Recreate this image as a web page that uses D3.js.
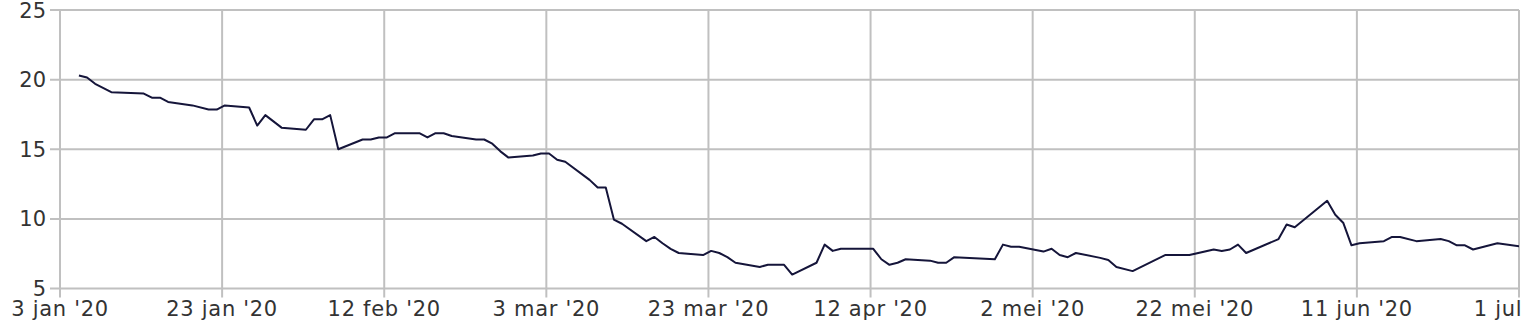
<!DOCTYPE html>
<html>
<head>
<meta charset="utf-8">
<script src="https://cdn.jsdelivr.net/npm/d3@7"></script>
<style>
  body { margin: 0; background: #fff; }
  svg { display: block; overflow: hidden; }
  .tick-label { font-family: "DejaVu Sans", Verdana, sans-serif; font-size: 21px; fill: #333; }
  .x-label { letter-spacing: 0.7px; }
</style>
</head>
<body>
<svg id="chart"></svg>
<script>
// data: dates and values
const dates = [
  "2020-01-05","2020-01-06","2020-01-07","2020-01-09","2020-01-13","2020-01-14","2020-01-15","2020-01-16",
  "2020-01-19","2020-01-21","2020-01-22","2020-01-23","2020-01-26","2020-01-27","2020-01-28","2020-01-30",
  "2020-02-02","2020-02-03","2020-02-04","2020-02-05","2020-02-06","2020-02-09","2020-02-10","2020-02-11",
  "2020-02-12","2020-02-13","2020-02-16","2020-02-17","2020-02-18","2020-02-19","2020-02-20","2020-02-23",
  "2020-02-24","2020-02-25","2020-02-26","2020-02-27","2020-03-01","2020-03-02","2020-03-03","2020-03-04",
  "2020-03-05","2020-03-08","2020-03-09","2020-03-10","2020-03-11","2020-03-12","2020-03-15","2020-03-16",
  "2020-03-17","2020-03-18","2020-03-19","2020-03-22","2020-03-23","2020-03-24","2020-03-25","2020-03-26",
  "2020-03-29","2020-03-30","2020-04-01","2020-04-02","2020-04-05","2020-04-06","2020-04-07","2020-04-08",
  "2020-04-12","2020-04-13","2020-04-14","2020-04-15","2020-04-16","2020-04-19","2020-04-20","2020-04-21",
  "2020-04-22","2020-04-27","2020-04-28","2020-04-29","2020-04-30","2020-05-03","2020-05-04","2020-05-05",
  "2020-05-06","2020-05-07","2020-05-10","2020-05-11","2020-05-12","2020-05-14","2020-05-18","2020-05-21",
  "2020-05-24","2020-05-25","2020-05-26","2020-05-27","2020-05-28","2020-06-01","2020-06-02","2020-06-03",
  "2020-06-07","2020-06-08","2020-06-09","2020-06-10","2020-06-11","2020-06-14","2020-06-15","2020-06-16",
  "2020-06-18","2020-06-21","2020-06-22","2020-06-23","2020-06-24","2020-06-25","2020-06-28","2020-07-01"
];
const values = [
  20.3, 20.15, 19.7, 19.1, 19.0, 18.7, 18.7, 18.4,
  18.15, 17.85, 17.85, 18.15, 18.0, 16.7, 17.45, 16.55,
  16.4, 17.15, 17.15, 17.45, 15.0, 15.7, 15.7, 15.85,
  15.85, 16.15, 16.15, 15.85, 16.15, 16.15, 15.95, 15.7,
  15.7, 15.4, 14.85, 14.4, 14.55, 14.7, 14.7, 14.25,
  14.1, 12.8, 12.25, 12.25, 9.95, 9.65, 8.4, 8.7,
  8.25, 7.85, 7.55, 7.4, 7.7, 7.55, 7.25, 6.85,
  6.55, 6.7, 6.7, 6.0, 6.85, 8.15, 7.7, 7.85,
  7.85, 7.1, 6.7, 6.85, 7.1, 7.0, 6.85, 6.85,
  7.25, 7.1, 8.15, 8.0, 8.0, 7.65, 7.85, 7.4,
  7.25, 7.55, 7.2, 7.05, 6.55, 6.25, 7.4, 7.4,
  7.8, 7.7, 7.8, 8.15, 7.55, 8.55, 9.6, 9.4,
  11.3, 10.3, 9.7, 8.1, 8.25, 8.4, 8.7, 8.7,
  8.4, 8.55, 8.4, 8.1, 8.1, 7.8, 8.25, 8.0
];
const xTickDates = ["2020-01-03","2020-01-23","2020-02-12","2020-03-03","2020-03-23","2020-04-12","2020-05-02","2020-05-22","2020-06-11","2020-07-01"];
const xTickLabels = ["3 jan '20","23 jan '20","12 feb '20","3 mar '20","23 mar '20","12 apr '20","2 mei '20","22 mei '20","11 jun '20","1 jul '20"];
const yTicks = [5, 10, 15, 20, 25];

const parseDay = d3.timeParse("%Y-%m-%d");
const parsePoint = d3.timeParse("%Y-%m-%d %H:%M");

const W = 1521, H = 333;
const plot = { left: 60, right: 1519, top: 10, bottom: 288.5 };
const gridColor = "#c0c0c0";

const svg = d3.select("#chart").attr("width", W).attr("height", H);

const x = d3.scaleTime()
  .domain([parseDay(xTickDates[0]), parseDay(xTickDates[xTickDates.length - 1])])
  .range([plot.left, plot.right]);
const y = d3.scaleLinear().domain([5, 25]).range([plot.bottom, plot.top]);

// horizontal grid + y ticks
svg.append("g").selectAll("line")
  .data(yTicks)
  .join("line")
  .attr("x1", plot.left - 10).attr("x2", plot.right)
  .attr("y1", d => y(d)).attr("y2", d => y(d))
  .attr("stroke", gridColor).attr("stroke-width", 2);

svg.append("g").selectAll("text")
  .data(yTicks)
  .join("text")
  .attr("class", "tick-label")
  .attr("x", plot.left - 14)
  .attr("y", d => y(d))
  .attr("dy", "0.36em")
  .attr("text-anchor", "end")
  .text(d => d);

// vertical grid + x ticks
const xTicks = xTickDates.map((d, i) => ({ date: parseDay(d), label: xTickLabels[i] }));

svg.append("g").selectAll("line")
  .data(xTicks)
  .join("line")
  .attr("x1", d => x(d.date)).attr("x2", d => x(d.date))
  .attr("y1", plot.top).attr("y2", plot.bottom + 9)
  .attr("stroke", gridColor).attr("stroke-width", 2);

// the last label runs past the svg edge and is cut, as in the original
svg.append("g").selectAll("text")
  .data(xTicks)
  .join("text")
  .attr("class", "tick-label x-label")
  .attr("x", d => x(d.date))
  .attr("y", 316)
  .attr("text-anchor", "middle")
  .text(d => d.label);

// line, clipped to the plot area
svg.append("clipPath").attr("id", "plot-clip")
  .append("rect")
  .attr("x", plot.left).attr("y", plot.top - 5)
  .attr("width", plot.right - plot.left).attr("height", plot.bottom - plot.top + 5);

const points = dates.map((d, i) => ({ date: parsePoint(d + " 08:00"), value: values[i] }));

svg.append("path")
  .datum(points)
  .attr("clip-path", "url(#plot-clip)")
  .attr("fill", "none")
  .attr("stroke", "#15153a")
  .attr("stroke-width", 2)
  .attr("stroke-linejoin", "round")
  .attr("d", d3.line().x(d => x(d.date)).y(d => y(d.value)));
</script>
</body>
</html>
